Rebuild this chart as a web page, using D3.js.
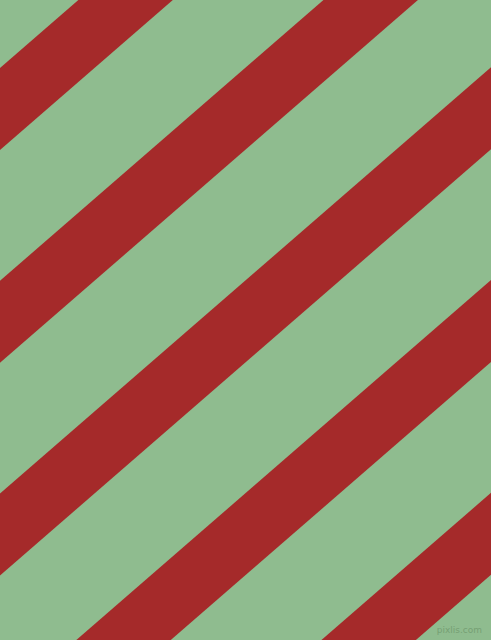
<!DOCTYPE html>
<html>
<head>
<meta charset="utf-8">
<script src="https://cdn.jsdelivr.net/npm/d3@7"></script>
<style>
  html, body { margin: 0; padding: 0; background: #8FBC8F; }
  svg { display: block; }
</style>
</head>
<body>
<svg id="stripes"></svg>
<script>
// stripe data: which bands are drawn, and their colours
const stripeIndex = [1, 2, 3, 4, 5];
const colors = { background: "#8FBC8F", stripe: "#A52A2A" };
const watermark = ["pixlis.com"];

const width = 491;
const height = 640;
const slope = 0.868;      // rise per pixel of the stripe edges
const bandHeight = 82;    // vertical thickness of a stripe

const svg = d3.select("#stripes")
    .attr("width", width)
    .attr("height", height);

// maps stripe index -> y of its top edge at x = 0
const y = d3.scaleLinear().domain([0, 1]).range([-144.75, 68]);
const x = d3.scaleLinear().domain([0, 1]).range([0, width]);

svg.append("rect")
    .attr("width", width)
    .attr("height", height)
    .attr("fill", colors.background);

svg.selectAll("polygon.stripe")
    .data(stripeIndex)
    .enter().append("polygon")
    .attr("class", "stripe")
    .attr("fill", colors.stripe)
    .attr("points", d => {
        const y0 = y(d);
        const drop = x(1) * slope;
        return [
            [x(0), y0],
            [x(0), y0 + bandHeight],
            [x(1), y0 + bandHeight - drop],
            [x(1), y0 - drop]
        ].join(" ");
    });

svg.selectAll("text.mark")
    .data(watermark)
    .enter().append("text")
    .attr("class", "mark")
    .attr("x", width - 9)
    .attr("y", height - 7)
    .attr("text-anchor", "end")
    .style("font-family", "DejaVu Sans, sans-serif")
    .style("font-size", "9px")
    .attr("fill", "#76A074")
    .text(d => d);
</script>
</body>
</html>
